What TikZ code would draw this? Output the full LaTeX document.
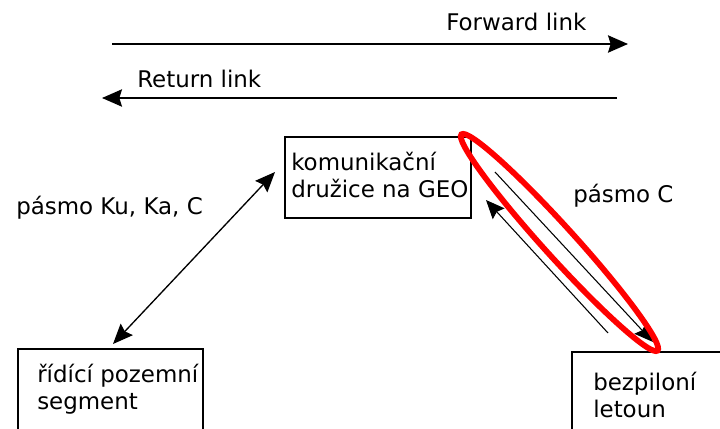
\documentclass[tikz,border=0pt]{standalone}
\usepackage{fontspec}
\setmainfont{DejaVu Sans}
\usetikzlibrary{arrows.meta}
\usetikzlibrary{positioning}

\tikzset{
  lbl/.style={inner sep=0pt, anchor=base west, align=left,
    font=\fontsize{17.2}{20.25}\selectfont},
  box/.style={draw, line width=1pt},
  link/.style={line width=1.2pt, -{Stealth[length=15pt,width=13pt,inset=2pt]}},
  band/.style={line width=1pt, {Stealth[length=15pt,width=12.5pt,inset=2pt]}-{Stealth[length=15pt,width=12.5pt,inset=2pt]}},
  beam/.style={line width=0.8pt, -{Stealth[length=14pt,width=12pt,inset=2pt]}},
}

\begin{document}
\begin{tikzpicture}[x=0.75pt, y=-0.75pt]
  % 1 unit = 1px, y runs downwards
  \useasboundingbox (0,0) rectangle (720,428);
  \clip (0,0) rectangle (720,428);

  % forward and return link
  \coordinate (f1) at (112,44);
  \coordinate (f2) at (628,44);
  \coordinate (r1) at (617,98);
  \coordinate (r2) at (102,98);
  \draw [link] (f1) -- (f2);
  \draw [link] (r1) -- (r2);
  \node [lbl] (fwd) at (446,30.7) {Forward link};
  \node [lbl] (ret) at (137,87) {Return link};

  % boxes (text anchored on the last line)
  \draw [box] (285,137) rectangle (471,218);
  \node [lbl] (geo) at (291,197) {komunikační\\družice na GEO};
  \draw [box] (18,349) rectangle (203,470);
  \node [lbl] (gnd) at (37,409) {řídící pozemní\\segment};
  \draw [box] (572,352) rectangle (740,470);
  \node [lbl] (uav) at (593,417) {bezpiloní\\letoun};

  % ground segment <-> satellite
  \coordinate (k1) at (113,344);
  \coordinate (k2) at (275,172);
  \draw [band] (k1) -- (k2);
  \node [lbl] (ku) at (16,214) {pásmo Ku, Ka, C};

  % satellite <-> UAV
  \coordinate (c1) at (495,172);
  \coordinate (c2) at (653,342);
  \coordinate (c3) at (608,333);
  \coordinate (c4) at (486,200);
  \draw [beam] (c1) -- (c2);
  \draw [beam] (c3) -- (c4);
  \node [lbl] (cb) at (573,202) {pásmo C};

  % highlighted downlink
  \coordinate (hl) at (559.5,242.5);
  \draw [red, line width=4.3pt, rotate around={-47.8:(hl)}]
    (hl) ellipse [x radius=146, y radius=15.5];
\end{tikzpicture}
\end{document}
